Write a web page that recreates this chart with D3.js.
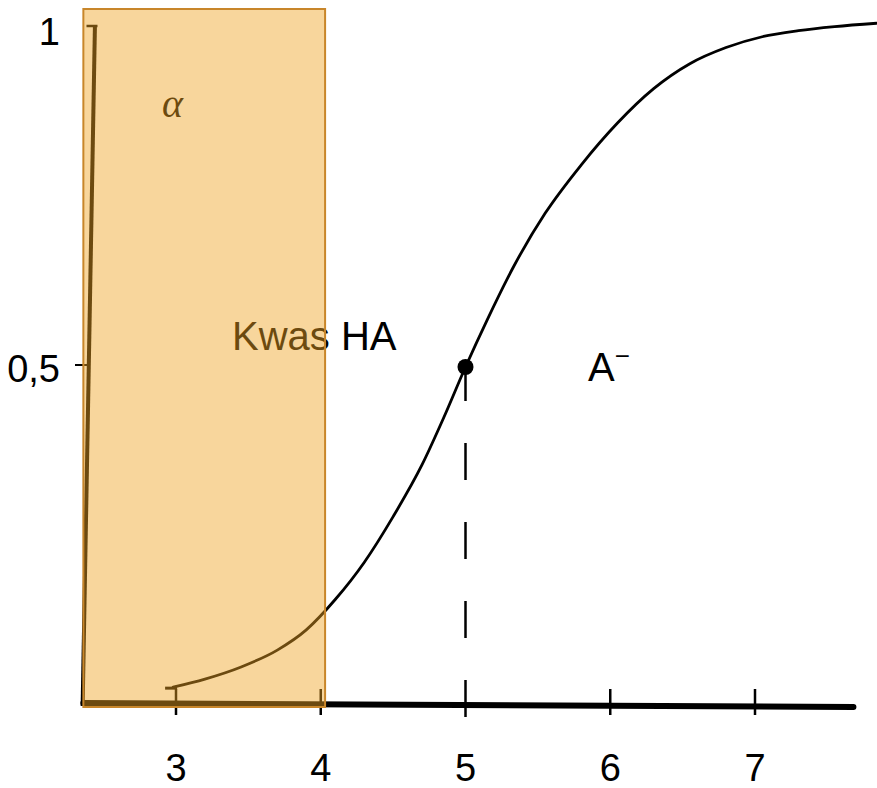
<!DOCTYPE html>
<html>
<head>
<meta charset="utf-8">
<script src="https://cdn.jsdelivr.net/npm/d3@7"></script>
<style>
  html, body { margin: 0; padding: 0; background: #fff; }
  svg { display: block; }
</style>
</head>
<body>
<div id="chart"></div>
<script>
// Dissociation curve of a weak acid HA: degree of dissociation α versus pH
const pH = [2.98, 3.20, 3.45, 3.70, 3.90, 4.10, 4.30, 4.50, 4.70, 4.85, 5.00, 5.15, 5.33, 5.55, 5.80, 6.05, 6.30, 6.55, 6.80, 7.05, 7.30, 7.55, 7.84];
const alpha = [0.025, 0.037, 0.055, 0.080, 0.110, 0.155, 0.210, 0.278, 0.355, 0.425, 0.500, 0.570, 0.648, 0.728, 0.800, 0.862, 0.913, 0.950, 0.974, 0.990, 0.999, 1.005, 1.010];

const xTicks = [3, 4, 5, 6, 7];
const yTicks = [0.5, 1];
const yTickLabels = ["0,5", "1"];

const pKa = 5;            // half-dissociation point
const halfAlpha = 0.5;
const acidRange = [2.36, 4.03];   // shaded region where the acid form HA dominates

const W = 877, H = 788;
const x = d3.scaleLinear().domain([3, 7]).range([176, 755]);
const y = d3.scaleLinear().domain([0, 1]).range([704, 30]);

const svg = d3.select("#chart").append("svg")
  .attr("width", W).attr("height", H)
  .attr("viewBox", `0 0 ${W} ${H}`);

const font = "'Liberation Sans', Arial, Helvetica, sans-serif";

// curve
const line = d3.line()
  .x((d, i) => x(pH[i]))
  .y(d => y(d))
  .curve(d3.curveMonotoneX);

svg.append("path")
  .datum(alpha)
  .attr("d", line)
  .attr("fill", "none")
  .attr("stroke", "#000")
  .attr("stroke-width", 2.8)
  .attr("stroke-linecap", "round");

// small mark at the start of the curve
svg.append("line")
  .attr("x1", x(pH[0]) - 8).attr("x2", x(pH[0]) + 4)
  .attr("y1", y(alpha[0]) + 1).attr("y2", y(alpha[0]) + 1)
  .attr("stroke", "#000").attr("stroke-width", 3);

// x axis
svg.append("line")
  .attr("x1", x(2.36)).attr("y1", y(0) - 1)
  .attr("x2", x(7.68)).attr("y2", y(0) + 3)
  .attr("stroke", "#000").attr("stroke-width", 6)
  .attr("stroke-linecap", "round");

svg.selectAll(".xtick")
  .data(xTicks.filter(d => d !== pKa))
  .join("line")
  .attr("class", "xtick")
  .attr("x1", d => x(d)).attr("x2", d => x(d))
  .attr("y1", y(0) - 15).attr("y2", y(0) + 11)
  .attr("stroke", "#000").attr("stroke-width", 2.5);

svg.selectAll(".xlabel")
  .data(xTicks)
  .join("text")
  .attr("class", "xlabel")
  .attr("x", d => x(d))
  .attr("y", 781)
  .attr("text-anchor", "middle")
  .attr("font-family", font)
  .attr("font-size", 38)
  .attr("fill", "#000")
  .text(d => d);

// y axis
svg.append("line")
  .attr("x1", x(2.355)).attr("y1", y(0) + 2)
  .attr("x2", x(2.44)).attr("y2", y(1) - 5)
  .attr("stroke", "#000").attr("stroke-width", 4);

svg.append("line")
  .attr("x1", x(2.43) - 7).attr("x2", x(2.43) + 4)
  .attr("y1", y(1) - 4).attr("y2", y(1) - 4)
  .attr("stroke", "#000").attr("stroke-width", 2.5);

svg.append("line")
  .attr("x1", 75).attr("x2", x(2.40))
  .attr("y1", y(0.5) - 2).attr("y2", y(0.5) - 2)
  .attr("stroke", "#000").attr("stroke-width", 2);

svg.selectAll(".ylabel")
  .data(yTicks)
  .join("text")
  .attr("class", "ylabel")
  .attr("x", 60)
  .attr("y", d => y(d) + 15)
  .attr("text-anchor", "end")
  .attr("font-family", font)
  .attr("font-size", 38)
  .attr("fill", "#000")
  .text((d, i) => yTickLabels[i]);

// dashed guide at pH = pKa
svg.append("line")
  .attr("x1", x(pKa)).attr("x2", x(pKa))
  .attr("y1", y(0) + 13).attr("y2", y(halfAlpha))
  .attr("stroke", "#000").attr("stroke-width", 2.5)
  .attr("stroke-dasharray", "37,42");

svg.append("circle")
  .attr("cx", x(pKa)).attr("cy", y(halfAlpha))
  .attr("r", 8)
  .attr("fill", "#000");

// species labels
svg.append("text")
  .attr("x", 232).attr("y", 350)
  .attr("font-family", font)
  .attr("font-size", 40)
  .attr("fill", "#000")
  .text("Kwas HA");

const aMinus = svg.append("text")
  .attr("x", 588).attr("y", 381)
  .attr("font-family", font)
  .attr("font-size", 40)
  .attr("fill", "#000");
aMinus.append("tspan").text("A");
aMinus.append("tspan")
  .attr("font-size", 26)
  .attr("dy", -16)
  .text("\u2212");

svg.append("text")
  .attr("x", 162).attr("y", 117)
  .attr("font-family", "'Liberation Serif', 'DejaVu Serif', serif")
  .attr("font-style", "italic")
  .attr("font-size", 40)
  .attr("fill", "#000")
  .text("α");

// translucent band over the acid region
svg.append("rect")
  .attr("x", x(acidRange[0])).attr("y", 9)
  .attr("width", x(acidRange[1]) - x(acidRange[0]))
  .attr("height", y(0) + 3 - 9)
  .attr("fill", "rgb(239,163,35)")
  .attr("fill-opacity", 0.45)
  .attr("stroke", "#c8862a")
  .attr("stroke-width", 2);
</script>
</body>
</html>
